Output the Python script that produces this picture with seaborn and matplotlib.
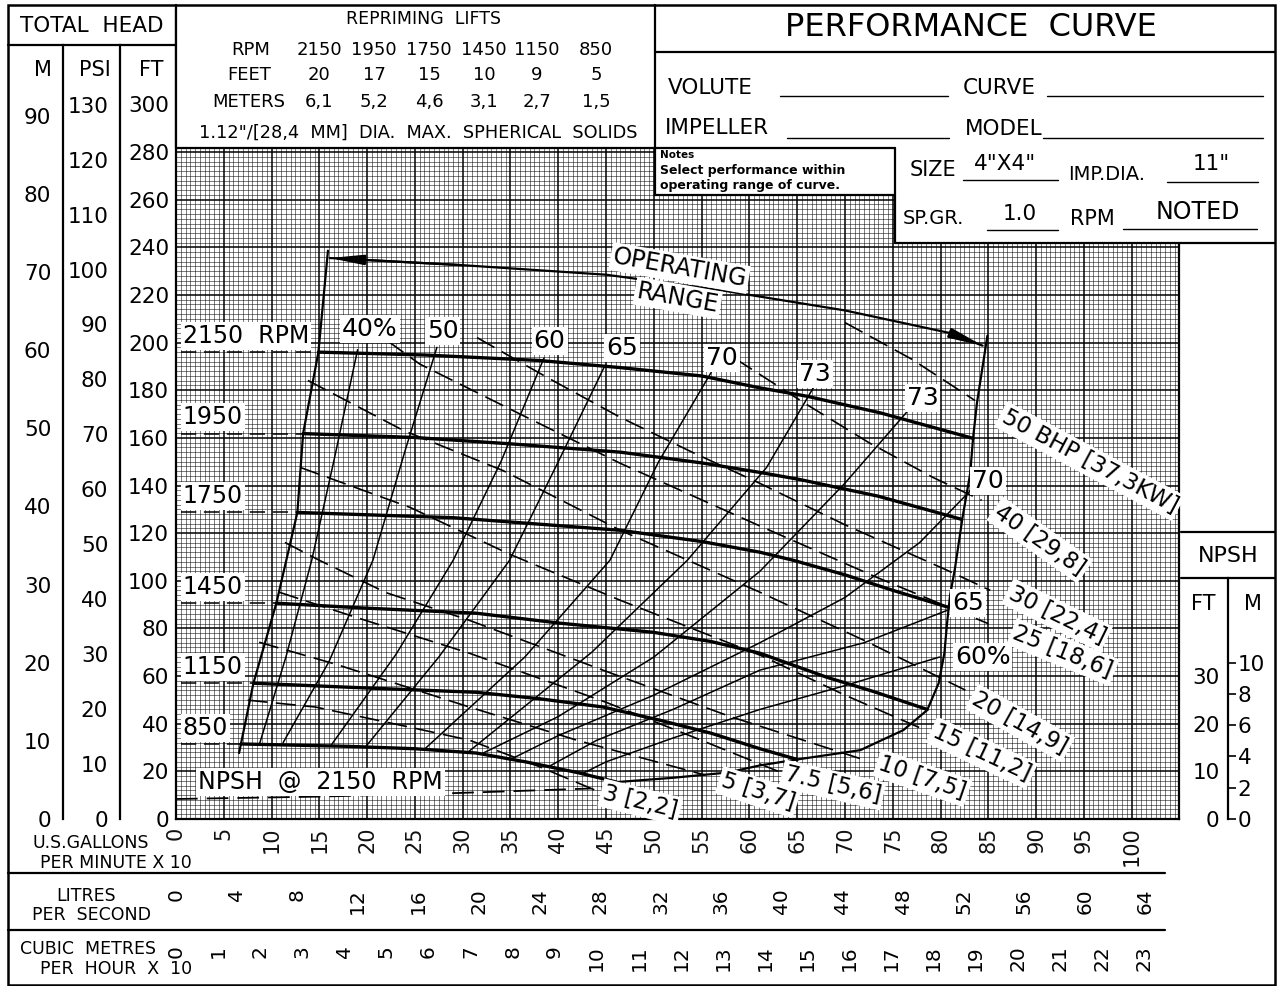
import pandas as pd
import matplotlib
matplotlib.use("Agg")
import matplotlib.pyplot as plt
from matplotlib.lines import Line2D
from matplotlib.patches import Rectangle
from matplotlib.ticker import FixedLocator, MultipleLocator
import seaborn as sns

# flow is US GPM x 10, head is feet
rpm_names = ["2150", "1950", "1750", "1450", "1150", "850"]
rpm_text = ["2150  RPM", "1950", "1750", "1450", "1150", "850"]

q_2150 = [14.9, 26.0, 38.0, 46.5, 55.0, 61.1, 66.0, 73.7, 83.4]
h_2150 = [196.0, 194.8, 192.5, 189.5, 186.0, 181.0, 177.5, 170.5, 159.8]
q_1950 = [13.3, 24.8, 35.0, 46.5, 55.0, 61.1, 65.3, 73.5, 82.2]
h_1950 = [161.8, 160.2, 157.5, 154.0, 149.5, 145.5, 142.5, 135.5, 125.8]
q_1750 = [12.7, 29.0, 46.5, 55.0, 61.1, 64.6, 70.0, 75.0, 80.8]
h_1750 = [128.7, 126.5, 121.2, 116.5, 112.0, 108.6, 102.5, 96.0, 88.9]
q_1450 = [10.5, 20.0, 31.4, 40.2, 49.9, 56.0, 61.1, 68.1, 73.0, 78.6]
h_1450 = [90.6, 88.5, 86.4, 82.2, 78.4, 74.5, 69.6, 59.5, 53.5, 46.0]
q_1150 = [8.1, 20.0, 31.4, 38.0, 44.7, 50.6, 56.0, 61.1, 65.0]
h_1150 = [57.0, 55.0, 53.2, 50.5, 47.0, 41.5, 36.0, 29.5, 25.0]
q_850 = [6.8, 18.0, 25.0, 31.4, 36.7, 42.0, 46.1]
h_850 = [31.5, 30.5, 29.5, 27.7, 23.9, 19.5, 15.5]

# operating range outline
q_range_left = [15.9, 14.9, 13.3, 12.7, 10.5, 8.1, 6.6]
h_range_left = [238.6, 196.0, 161.8, 128.7, 90.6, 57.0, 27.7]
q_range_top = [16.1, 30.0, 45.0, 57.0, 70.0, 81.0, 84.4]
h_range_top = [235.5, 232.5, 228.5, 222.0, 213.5, 204.0, 198.7]
q_range_right = [84.9, 83.8, 83.4, 83.1, 82.3, 81.5, 81.0, 80.7, 80.4, 79.8,
                 78.6, 76.1, 71.6, 65.0, 61.1, 57.7, 52.0, 46.1]
h_range_right = [202.9, 174.4, 159.8, 145.0, 126.6, 105.0, 94.0, 83.0, 69.6, 57.0,
                 45.7, 37.3, 28.9, 25.0, 22.5, 19.5, 17.3, 15.5]

# efficiency lines
eff_names = ["40", "50", "60", "65", "70", "73", "73r", "70r", "65r", "60r"]
q_eff40 = [19.0, 16.5, 14.2, 11.5, 8.7]
h_eff40 = [197.0, 150.0, 108.6, 68.0, 31.0]
q_eff50 = [27.3, 24.0, 20.6, 16.0, 11.2]
h_eff50 = [198.0, 155.0, 108.6, 66.0, 32.0]
q_eff60 = [38.5, 34.0, 29.0, 23.0, 16.2]
h_eff60 = [193.5, 150.0, 108.6, 69.0, 30.8]
q_eff65 = [44.9, 40.0, 34.9, 27.5, 19.9]
h_eff65 = [190.5, 150.0, 108.6, 68.0, 30.6]
q_eff70 = [56.0, 50.5, 45.4, 36.5, 26.0]
h_eff70 = [187.5, 150.0, 108.6, 68.0, 29.3]
q_eff73 = [66.9, 61.8, 53.5, 43.5, 30.5]
h_eff73 = [182.5, 147.6, 108.6, 70.0, 27.9]
q_eff73r = [76.5, 70.0, 61.1, 50.0, 40.0, 32.0]
h_eff73r = [171.0, 141.0, 104.0, 68.0, 43.0, 27.4]
q_eff70r = [83.4, 77.8, 70.0, 61.1, 50.0, 40.0, 35.0]
h_eff70r = [139.0, 116.0, 93.0, 74.0, 52.0, 35.0, 25.0]
q_eff65r = [80.7, 72.0, 61.1, 52.0, 44.0, 39.0]
h_eff65r = [87.6, 74.0, 62.5, 46.0, 33.0, 22.0]
q_eff60r = [79.9, 70.0, 61.1, 52.0, 45.0, 42.5]
h_eff60r = [68.0, 56.0, 46.0, 34.0, 24.0, 19.0]

# brake horsepower lines
bhp_names = ["50", "40", "30", "25", "20", "15", "10", "7.5", "5", "3"]
q_bhp50 = [70.0, 77.0, 83.6]
h_bhp50 = [208.4, 193.0, 175.7]
q_bhp40 = [58.5, 66.0, 72.5, 79.2, 84.3]
h_bhp40 = [193.3, 174.0, 158.0, 143.4, 133.8]
q_bhp30 = [31.5, 39.0, 46.5, 54.0, 61.1, 70.0, 80.7, 85.2]
h_bhp30 = [202.1, 185.0, 168.6, 154.0, 140.9, 123.5, 104.4, 96.0]
q_bhp25 = [22.1, 25.5, 36.0, 46.5, 61.1, 73.0, 85.0]
h_bhp25 = [200.8, 191.0, 170.0, 149.3, 123.0, 102.0, 82.0]
q_bhp20 = [13.8, 23.8, 34.2, 46.5, 61.1, 72.0, 82.6]
h_bhp20 = [184.1, 163.1, 146.3, 121.2, 95.2, 75.0, 54.1]
q_bhp15 = [13.0, 24.5, 35.0, 46.5, 61.1, 70.0, 78.4]
h_bhp15 = [147.6, 130.8, 111.0, 91.8, 68.8, 52.0, 37.3]
q_bhp10 = [11.4, 15.0, 22.0, 30.7, 45.0, 58.0, 72.1]
h_bhp10 = [116.1, 108.6, 95.0, 83.4, 62.0, 43.0, 24.7]
q_bhp7 = [10.8, 18.8, 30.7, 45.0, 55.0, 63.2]
h_bhp7 = [95.2, 84.7, 69.6, 49.0, 33.0, 19.7]
q_bhp5 = [8.7, 16.7, 30.7, 42.0, 55.4]
h_bhp5 = [74.2, 65.0, 47.0, 33.0, 18.4]
q_bhp3 = [7.5, 14.6, 24.4, 30.7, 38.0, 43.8]
h_bhp3 = [49.9, 47.0, 38.6, 33.1, 22.0, 12.2]

# NPSH @ 2150 rpm (NPSH feet)
q_npsh = [0.0, 15.0, 29.4, 43.4]
npsh_ft = [4.2, 4.7, 5.45, 6.4]

reprime_rpm = ["2150", "1950", "1750", "1450", "1150", "850"]
reprime_feet = ["20", "17", "15", "10", "9", "5"]
reprime_m = ["6,1", "5,2", "4,6", "3,1", "2,7", "1,5"]

gpm_ticks = list(range(0, 101, 5))
lps_ticks = list(range(0, 65, 4))
m3h_ticks = list(range(0, 24))

# label placement (layout only)
eff_labels = [("40%", 20.3, 205.9), ("50", 27.9, 205.0), ("60", 39.1, 200.8),
              ("65", 46.7, 197.9), ("70", 57.1, 193.7), ("73", 66.9, 187.0),
              ("73", 78.1, 176.9), ("70", 85.0, 142.1), ("65", 82.9, 90.6),
              ("60%", 84.4, 67.9)]
bhp_labels = [("50 BHP [37,3KW]", 95.6, 150.2, -28), ("40 [29,8]", 90.4, 117.1, -35),
              ("30 [22,4]", 92.2, 85.6, -26), ("25 [18,6]", 92.8, 70.1, -22),
              ("20 [14,9]", 88.3, 40.3, -29), ("15 [11,2]", 84.3, 27.7, -25),
              ("10 [7,5]", 78.1, 17.2, -19), ("7.5 [5,6]", 68.7, 14.3, -13),
              ("5 [3,7]", 60.9, 11.3, -18), ("3 [2,2]", 48.6, 7.1, -14)]

FT_PER_M = 3.28084
FT_PER_PSI = 2.3067
UNITS_PER_LPS = 1.58503
UNITS_PER_M3H10 = 4.40287
NPSH_TO_HEAD = 2.0


def long_form(names, qs, hs):
    parts = [pd.DataFrame({"q": q, "h": h, "curve": n}) for n, q, h in zip(names, qs, hs)]
    return pd.concat(parts, ignore_index=True)


sns.set_style("white", rc={"axes.edgecolor": "black", "text.color": "black",
                           "xtick.color": "black", "ytick.color": "black"})
plt.rcParams["font.family"] = ["DejaVu Sans"]

W, H = 1279, 986
fig = plt.figure(figsize=(W / 100, H / 100), dpi=100)


def fx(px):
    return px / W


def fy(py):
    return 1 - py / H


PX_Q = 9.557
PX_FT = 2.382
Q_MAX = 105
TOP_PX = 10
H_TOP = (819 - TOP_PX) / PX_FT
ax = fig.add_axes([fx(176), fy(819), Q_MAX * PX_Q / W, (819 - TOP_PX) / H])

heads = long_form(rpm_names, [q_2150, q_1950, q_1750, q_1450, q_1150, q_850],
                  [h_2150, h_1950, h_1750, h_1450, h_1150, h_850])
effs = long_form(eff_names,
                 [q_eff40, q_eff50, q_eff60, q_eff65, q_eff70, q_eff73,
                  q_eff73r, q_eff70r, q_eff65r, q_eff60r],
                 [h_eff40, h_eff50, h_eff60, h_eff65, h_eff70, h_eff73,
                  h_eff73r, h_eff70r, h_eff65r, h_eff60r])
bhps = long_form(bhp_names,
                 [q_bhp50, q_bhp40, q_bhp30, q_bhp25, q_bhp20, q_bhp15,
                  q_bhp10, q_bhp7, q_bhp5, q_bhp3],
                 [h_bhp50, h_bhp40, h_bhp30, h_bhp25, h_bhp20, h_bhp15,
                  h_bhp10, h_bhp7, h_bhp5, h_bhp3])
outline = long_form(["left", "top", "right"],
                    [q_range_left, q_range_top, q_range_right],
                    [h_range_left, h_range_top, h_range_right])
npsh = pd.DataFrame({"q": q_npsh, "h": [v * NPSH_TO_HEAD for v in npsh_ft]})

sns.lineplot(data=bhps, x="q", y="h", units="curve", estimator=None, sort=False,
             color="black", linewidth=1.2, linestyle=(0, (12, 5)), ax=ax, legend=False)
sns.lineplot(data=effs, x="q", y="h", units="curve", estimator=None, sort=False,
             color="black", linewidth=1.1, ax=ax, legend=False)
sns.lineplot(data=outline, x="q", y="h", units="curve", estimator=None, sort=False,
             color="black", linewidth=1.6, ax=ax, legend=False)
sns.lineplot(data=heads, x="q", y="h", units="curve", estimator=None, sort=False,
             color="black", linewidth=2.4, ax=ax, legend=False)
sns.lineplot(data=npsh, x="q", y="h", estimator=None, sort=False, color="black",
             linewidth=1.3, linestyle=(0, (12, 5)), ax=ax, legend=False)

# operating range arrows
arrow = dict(arrowstyle="-|>,head_length=2.0,head_width=0.3", color="black",
             lw=1.6, shrinkA=0, shrinkB=0)
ax.annotate("", xy=(q_range_top[0], h_range_top[0]),
            xytext=(q_range_top[1], h_range_top[1]), arrowprops=arrow)
ax.annotate("", xy=(q_range_top[-1], h_range_top[-1]),
            xytext=(q_range_top[-2], h_range_top[-2]), arrowprops=arrow)

white = dict(facecolor="white", edgecolor="none", pad=1.5)
head_q = [q_2150, q_1950, q_1750, q_1450, q_1150, q_850]
head_h = [h_2150, h_1950, h_1750, h_1450, h_1150, h_850]
for txt, q, h in zip(rpm_text, head_q, head_h):
    ax.plot([0.5, q[0]], [h[0], h[0]], color="black", lw=1.1, ls=(0, (10, 5)))
    ax.text(0.7, h[0] + 1.8, txt, fontsize=17, ha="left", va="bottom", bbox=white, zorder=5)

for txt, q, h in eff_labels:
    ax.text(q, h, txt, fontsize=18, ha="center", va="center", bbox=white, zorder=5)
for txt, q, h, rot in bhp_labels:
    ax.text(q, h, txt, fontsize=16.5, ha="center", va="center", rotation=rot,
            rotation_mode="anchor", bbox=dict(facecolor="white", edgecolor="none", pad=2),
            zorder=5)
ax.text(52.7, 231.3, "OPERATING", fontsize=17, ha="center", va="center", rotation=-10,
        rotation_mode="anchor", bbox=white, zorder=5)
ax.text(52.5, 218.7, "RANGE", fontsize=17, ha="center", va="center", rotation=-10,
        rotation_mode="anchor", bbox=white, zorder=5)
ax.text(2.3, npsh_ft[0] * NPSH_TO_HEAD + 2.2, "NPSH  @  2150  RPM", fontsize=17,
        ha="left", va="bottom", bbox=white, zorder=5)

ax.set_xlim(0, Q_MAX)
ax.set_ylim(0, H_TOP)
ax.set(xlabel="", ylabel="")
ax.set_xticks(gpm_ticks, labels=[str(t) for t in gpm_ticks])
ax.xaxis.set_minor_locator(MultipleLocator(0.5))
ft_ticks = list(range(0, 301, 20))
ax.set_yticks(ft_ticks, labels=[str(t) for t in ft_ticks])
ax.yaxis.set_minor_locator(MultipleLocator(2))
ax.set_axisbelow(True)
ax.grid(which="minor", color="black", linewidth=0.45, alpha=0.8)
ax.grid(which="major", color="black", linewidth=1.1)
ax.tick_params(which="minor", length=0)
ax.tick_params(axis="x", which="major", length=0, pad=5.5, labelsize=15, labelrotation=90,
               labelcolor="#111111")
ax.tick_params(axis="y", which="major", length=0, pad=5, labelsize=15.5)
for s in ax.spines.values():
    s.set_linewidth(1.6)
ax.spines["top"].set_visible(False)


def side_scale(x_px, top_val, major, minor, bound_top):
    a = fig.add_axes([fx(x_px), fy(819), 0.0001, (819 - TOP_PX) / H])
    a.set_ylim(0, top_val)
    a.set_xticks([])
    for s in ["top", "right", "bottom"]:
        a.spines[s].set_visible(False)
    a.spines["left"].set_bounds(0, bound_top)
    a.spines["left"].set_linewidth(1.6)
    a.yaxis.set_major_locator(FixedLocator(major))
    a.yaxis.set_minor_locator(FixedLocator(minor))
    a.tick_params(axis="y", which="both", length=7.5, width=1.2, labelsize=15.5, pad=1)
    a.patch.set_visible(False)
    return a


side_scale(63, H_TOP / FT_PER_M, list(range(0, 91, 10)), list(range(5, 86, 10)),
           (819 - 45) / PX_FT / FT_PER_M)
side_scale(120, H_TOP / FT_PER_PSI, list(range(0, 131, 10)), list(range(5, 126, 10)),
           (819 - 45) / PX_FT / FT_PER_PSI)

# NPSH scale on the right
an = fig.add_axes([fx(1228), fy(819), 0.0001, (819 - TOP_PX) / H])
an.set_ylim(0, H_TOP / NPSH_TO_HEAD)
an.set_xticks([])
an.yaxis.set_major_locator(FixedLocator([0, 10, 20, 30]))
an.tick_params(axis="y", length=0, pad=6, labelsize=15.5)
for s in ["top", "right", "bottom"]:
    an.spines[s].set_visible(False)
an.spines["left"].set_bounds(0, (819 - 578) / PX_FT / NPSH_TO_HEAD)
an.spines["left"].set_linewidth(1.6)
an.patch.set_visible(False)
anm = an.twinx()
anm.set_ylim(0, H_TOP / NPSH_TO_HEAD / FT_PER_M)
anm.yaxis.set_major_locator(FixedLocator(list(range(0, 11, 2))))
anm.tick_params(axis="y", length=6, width=1.2, pad=1, labelsize=15.5)
for s in anm.spines.values():
    s.set_visible(False)
anm.patch.set_visible(False)


def flow_scale(y_px, top_val, ticks):
    a = fig.add_axes([fx(176), fy(y_px), Q_MAX * PX_Q / W, 0.0001])
    a.set_xlim(0, top_val)
    a.set_yticks([])
    for s in a.spines.values():
        s.set_visible(False)
    a.xaxis.set_major_locator(FixedLocator(ticks))
    a.tick_params(axis="x", length=8.5, width=1.2, labelsize=14.5, labelrotation=90, pad=2)
    a.patch.set_visible(False)


flow_scale(874, Q_MAX / UNITS_PER_LPS, lps_ticks)
flow_scale(931, Q_MAX / UNITS_PER_M3H10, m3h_ticks)


# title block and frame
def box(x0, y0, x1, y1):
    fig.add_artist(Rectangle((fx(x0), fy(y1)), fx(x1) - fx(x0), fy(y0) - fy(y1),
                             facecolor="white", edgecolor="none", zorder=5))


def hline(y, x0, x1, lw=1.6):
    fig.add_artist(Line2D([fx(x0), fx(x1)], [fy(y), fy(y)], color="black", lw=lw, zorder=6))


def vline(x, y0, y1, lw=1.6):
    fig.add_artist(Line2D([fx(x), fx(x)], [fy(y0), fy(y1)], color="black", lw=lw, zorder=6))


def label(x, y, s, size, ha="center", **kw):
    fig.text(fx(x), fy(y), s, fontsize=size, ha=ha, va="center", zorder=7, **kw)


box(176, 3, 1277, 148)
box(655, 148, 895, 195)
box(895, 148, 1277, 243)

fig.add_artist(Rectangle((fx(8), fy(985)), fx(1275) - fx(8), fy(5) - fy(985),
                         fill=False, edgecolor="black", lw=1.8, zorder=6))
hline(45, 8, 176)
vline(176, 5, 148)
hline(148, 176, 895)
vline(655, 5, 195)
hline(52, 655, 1275)
hline(195, 655, 895)
vline(895, 148, 243)
hline(243, 895, 1275)
hline(532, 1181, 1275)
hline(578, 1181, 1275)
hline(873, 8, 1165)
hline(930, 8, 1165)

label(92, 26, "TOTAL  HEAD", 15.5)
label(43, 70, "M", 15)
label(95, 70, "PSI", 15)
label(151, 70, "FT", 15)

label(423, 19, "REPRIMING  LIFTS", 12.5)
label(251, 50, "RPM", 13)
label(249, 75, "FEET", 13)
label(249, 102, "METERS", 13)
rep_x = [319, 374, 429, 484, 537, 596]
for x, a, b, c in zip(rep_x, reprime_rpm, reprime_feet, reprime_m):
    label(x, 50, a, 13)
    label(x, 75, b, 13)
    label(x, 102, c, 13)
label(418, 133, '1.12"/[28,4  MM]  DIA.  MAX.  SPHERICAL  SOLIDS', 12.8)

label(971, 28, "PERFORMANCE  CURVE", 23)
label(668, 88, "VOLUTE", 15.5, ha="left")
hline(96, 780, 948, lw=1)
label(963, 88, "CURVE", 15.5, ha="left")
hline(96, 1047, 1263, lw=1)
label(665, 128, "IMPELLER", 15.5, ha="left")
hline(138, 787, 949, lw=1)
label(965, 129, "MODEL", 15.5, ha="left")
hline(138, 1043, 1263, lw=1)

label(660, 155, "Notes", 7.5, ha="left", fontweight="bold")
label(660, 171, "Select performance within", 9, ha="left", fontweight="bold")
label(660, 186, "operating range of curve.", 9, ha="left", fontweight="bold")

label(910, 170, "SIZE", 15, ha="left")
hline(180, 963, 1058, lw=1)
label(1005, 164, '4"X4"', 15.5)
label(1068, 174, "IMP.DIA.", 14, ha="left")
hline(182, 1167, 1258, lw=1)
label(1211, 164, '11"', 15.5)
label(903, 218, "SP.GR.", 14, ha="left")
hline(230, 987, 1058, lw=1)
label(1020, 214, "1.0", 15.5)
label(1070, 219, "RPM", 15, ha="left")
hline(229, 1123, 1257, lw=1)
label(1198, 212, "NOTED", 17)

label(1228, 556, "NPSH", 16)
label(1203, 604, "FT", 15)
label(1253, 604, "M", 15)

label(33, 843, "U.S.GALLONS", 12.5, ha="left")
label(40, 863, "PER MINUTE X 10", 12.5, ha="left")
label(86, 896, "LITRES", 12.5)
label(92, 915, "PER  SECOND", 12.5)
label(20, 949, "CUBIC  METRES", 12.5, ha="left")
label(40, 969, "PER  HOUR  X  10", 12.5, ha="left")

fig.savefig("out.png", dpi=100, facecolor="white")
